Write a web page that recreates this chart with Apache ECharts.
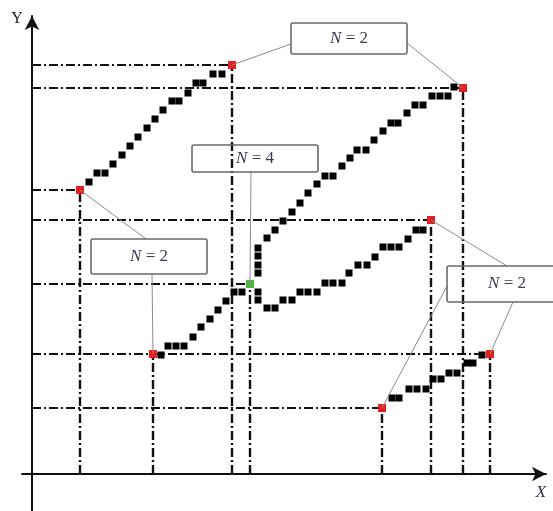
<!DOCTYPE html>
<html>
<head>
<meta charset="utf-8">
<script src="https://cdn.jsdelivr.net/npm/echarts@6/dist/echarts.min.js"></script>
<style>
  html, body { margin: 0; padding: 0; background: #ffffff; }
  #chart { width: 553px; height: 511px; }
</style>
</head>
<body>
<div id="chart"></div>
<script>
// Grid cells visited by each run, as [x, y] in plot units
const trackA = [[57,292],[65,301],[73,301],[81,310],[90,319],[98,328],[106,337],[115,346],[123,355],[131,364],[140,373],[147,373],[156,381],[164,391],[171,391],[181,400],[190,400]];
const trackBShared = [[129,119],[136,128],[144,128],[152,128],[161,137],[169,147],[178,155],[186,164],[194,173],[202,182],[210,182]];
const trackBUpper = [[226,201],[226,209],[226,218],[226,226],[235,236],[243,244],[251,253],[260,262],[268,271],[276,281],[285,290],[293,298],[301,298],[310,308],[318,316],[325,324],[334,324],[342,334],[351,343],[359,351],[366,351],[375,361],[383,369],[391,369],[400,378],[408,378],[416,378],[422,387]];
const trackBLower = [[226,182],[226,174],[235,166],[243,166],[251,174],[260,174],[268,182],[276,182],[285,182],[293,191],[301,191],[310,191],[317,201],[326,209],[335,209],[343,217],[351,227],[359,227],[367,227],[376,235],[384,244],[391,244]];
const trackC = [[360,76],[367,76],[377,85],[385,85],[394,85],[401,95],[409,95],[417,101],[425,101],[435,111],[441,111],[450,119]];

// Start / end cells of each segment (red) and the branching cell (green)
const endpoints = [[48,284],[200,409],[121,120],[431,386],[399,254],[350,66],[458,120]];
const pivot = [[218,190]];

// Callout labels and which marks they point at
const calloutTexts = ['2', '4', '2', '2'];
const calloutTargets = [
  [endpoints[1], endpoints[3]],
  [pivot[0]],
  [endpoints[0], endpoints[2]],
  [endpoints[4], endpoints[6], endpoints[5]]
];

// Box geometry (pixels) and where each leader leaves its box
const calloutLayout = [
  { box: [291, 23, 116, 31], from: [[291, 44], [407, 43]] },
  { box: [192, 145, 126, 27], from: [[251, 172]] },
  { box: [91, 239, 116, 35], from: [[146, 239], [152, 274]] },
  { box: [447, 266, 120, 36], from: [[507, 266], [513, 302], [447, 286]] }
];

const dashDot = [9, 3, 2, 3];

const guidePoints = endpoints.concat(pivot);
const guideSeries = [];
guidePoints.forEach(function (p) {
  guideSeries.push({
    type: 'line', data: [[0, p[1]], [p[0], p[1]]], symbol: 'none', silent: true,
    lineStyle: { color: '#111111', width: 2, type: dashDot, opacity: 1 }, z: 1
  });
  guideSeries.push({
    type: 'line', data: [[p[0], 0], [p[0], p[1]]], symbol: 'none', silent: true,
    lineStyle: { color: '#111111', width: 2.4, type: dashDot, opacity: 1 }, z: 1
  });
});

const cellSeries = {
  type: 'scatter', symbol: 'rect', symbolSize: 7, z: 3,
  itemStyle: { color: '#000000', opacity: 1 },
  data: [].concat(trackA, trackBShared, trackBUpper, trackBLower, trackC)
};
const endSeries = {
  type: 'scatter', symbol: 'rect', symbolSize: 8, z: 4,
  itemStyle: { color: '#e3201f', opacity: 1 }, data: endpoints
};
const pivotSeries = {
  type: 'scatter', symbol: 'rect', symbolSize: 8, z: 4,
  itemStyle: { color: '#4fb540', opacity: 1 }, data: pivot
};

const chart = echarts.init(document.getElementById('chart'), null, { renderer: 'canvas' });

const axisLine = {
  show: true, onZero: true,
  symbol: ['none', 'arrow'], symbolSize: [11, 14],
  lineStyle: { color: '#111111', width: 2 }
};

chart.setOption({
  animation: false,
  backgroundColor: '#ffffff',
  grid: { left: 22, right: 7, top: 16, bottom: 0 },
  xAxis: {
    type: 'value', min: -10, max: 514,
    axisLine: axisLine, axisTick: { show: false }, axisLabel: { show: false },
    splitLine: { show: false }
  },
  yAxis: {
    type: 'value', min: -37, max: 458,
    axisLine: axisLine, axisTick: { show: false }, axisLabel: { show: false },
    splitLine: { show: false }
  },
  series: guideSeries.concat([cellSeries, endSeries, pivotSeries])
});

// Callout boxes, leader lines and axis letters
const graphics = [];
calloutLayout.forEach(function (c, i) {
  calloutTargets[i].forEach(function (target, j) {
    const to = chart.convertToPixel({ gridIndex: 0 }, target);
    graphics.push({
      type: 'line', z: 5, silent: true,
      shape: { x1: c.from[j][0], y1: c.from[j][1], x2: to[0], y2: to[1] },
      style: { stroke: '#8c8c8c', lineWidth: 1 }
    });
  });
  const b = c.box;
  graphics.push({
    type: 'rect', z: 6, silent: true,
    shape: { x: b[0], y: b[1], width: b[2], height: b[3], r: 2 },
    style: { fill: 'rgba(255,255,255,0)', stroke: '#6a6a6a', lineWidth: 1.6 }
  });
  graphics.push({
    type: 'text', z: 7, silent: true,
    x: b[0] + b[2] / 2, y: b[1] + b[3] / 2,
    style: {
      text: '{n|N} = ' + calloutTexts[i],
      align: 'center', verticalAlign: 'middle',
      fill: '#3a3a52', font: '17px "Liberation Serif"',
      rich: { n: { fontStyle: 'italic', fontFamily: 'Liberation Serif', fontSize: 17, fill: '#3a3a52' } }
    }
  });
});
graphics.push({
  type: 'text', silent: true, x: 17, y: 19,
  style: { text: 'Y', align: 'center', verticalAlign: 'middle', fill: '#222222', font: '16px "Liberation Serif"' }
});
graphics.push({
  type: 'text', silent: true, x: 541, y: 493,
  style: { text: 'X', align: 'center', verticalAlign: 'middle', fill: '#333344', font: 'italic 17px "Liberation Serif"' }
});

chart.setOption({ graphic: graphics });
</script>
</body>
</html>
